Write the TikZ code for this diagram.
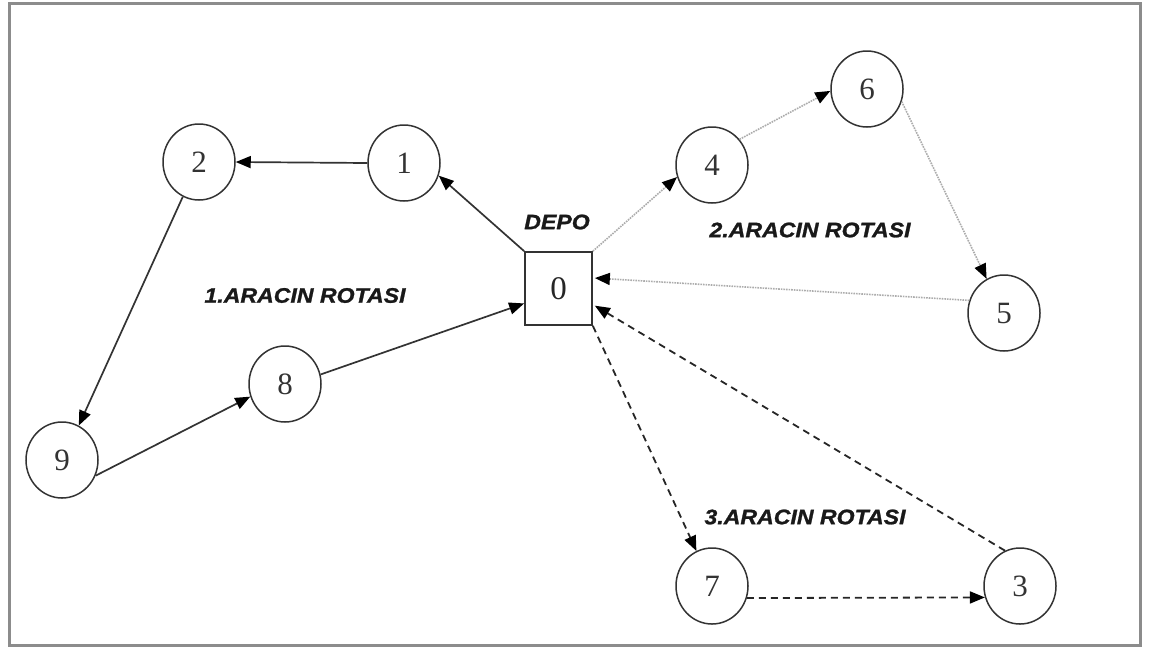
\documentclass[tikz,border=0pt]{standalone}
\usepackage{fontspec}
\setmainfont{Liberation Serif}
\newfontfamily\routefont[FakeStretch=1.1,FakeBold=1.2]{Liberation Sans}
\usetikzlibrary{arrows.meta,shapes.geometric,calc}

\begin{document}
\begin{tikzpicture}[x=1pt,y=-1pt,
  stop/.style={ellipse, draw=black!80, line width=1.5pt, minimum width=72pt,
    minimum height=76pt, inner sep=0pt, text=black!80,
    font=\fontsize{31}{31}\selectfont},
  depot/.style={rectangle, draw=black!80, line width=1.7pt, minimum width=67pt,
    minimum height=73pt, inner sep=0pt, text=black!85,
    font=\fontsize{33}{33}\selectfont},
  route/.style={inner sep=0pt, text=black!90,
    font=\routefont\bfseries\itshape\fontsize{21}{21}\selectfont},
  tip/.style={-{Triangle[length=15pt,width=12pt,color=black]}},
  solidroute/.style={tip, draw=black!80, line width=1.7pt},
  dotroute/.style={tip, draw=gray!65, line width=1.6pt, densely dotted},
  dashroute/.style={tip, draw=black!85, line width=1.8pt, dash pattern=on 7pt off 5pt},
]
\useasboundingbox (0,0) rectangle (1150,649);
% outer frame
\draw[black!45, line width=3pt] (9.5,3.5) rectangle (1140,645);

% depot and customers
\node[depot] (n0) at (558.5,288.5) {0};
\node[route] (depo) at (557,222) {DEPO};
\node[stop] (n1) at (404,163) {1};
\node[stop] (n2) at (199,162) {2};
\node[stop] (n9) at (62,460) {9};
\node[stop] (n8) at (285,384) {8};
\node[stop] (n4) at (712,165) {4};
\node[stop] (n6) at (867,89) {6};
\node[stop] (n5) at (1004,313) {5};
\node[stop] (n7) at (712,586) {7};
\node[stop] (n3) at (1020,586) {3};

% route labels
\node[route] (lab1) at (305,295.5) {1.ARACIN ROTASI};
\node[route] (lab2) at (810,230) {2.ARACIN ROTASI};
\node[route] (lab3) at (805,517) {3.ARACIN ROTASI};

% vehicle 1
\draw[solidroute] (n0.north west) -- (n1.-20);
\draw[solidroute] (n1.west) -- (n2.east);
\draw[solidroute] (n2.-115) -- (n9.64);
\draw[solidroute] (n9.-25) -- (n8.200);
\draw[solidroute] (n8.15) -- ($(n0.south west)!0.3!(n0.north west)$);

% vehicle 2
\draw[dotroute] (n0.north east) -- (n4.199);
\draw[dotroute] (n4.43) -- (n6.183);
\draw[dotroute] (n6.-20) -- (n5.117);
\draw[dotroute] (n5.160) -- ($(n0.south east)!0.64!(n0.north east)+(2,0)$);

% vehicle 3
\draw[dashroute] (n0.south east) -- (n7.114);
\draw[dashroute] (n7.-19) -- (n3.198);
\draw[dashroute] (n3.113) -- ($(n0.south east)!0.27!(n0.north east)+(2,0)$);
\end{tikzpicture}
\end{document}
